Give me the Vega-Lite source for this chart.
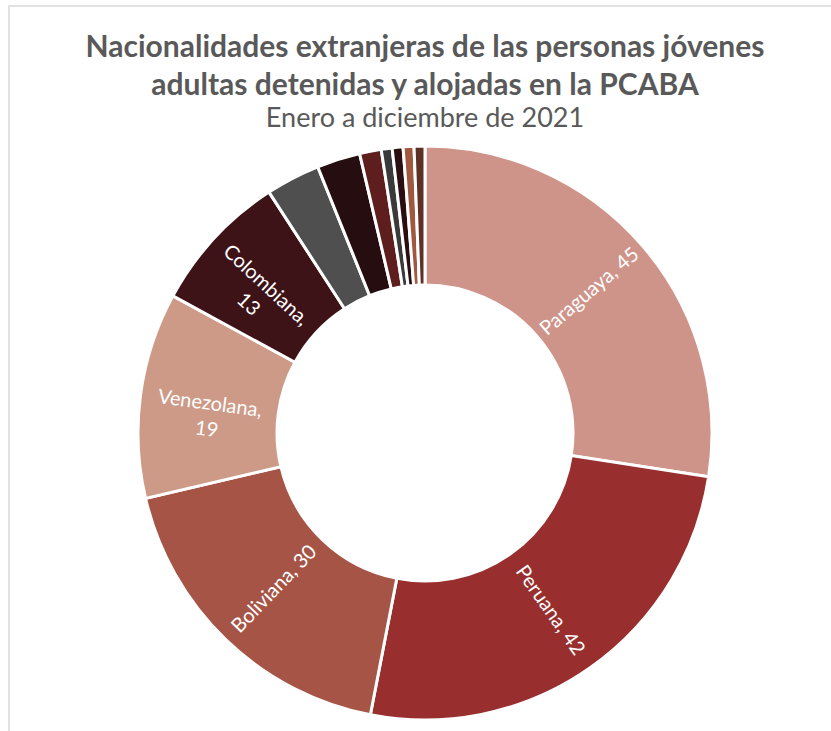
{
  "$schema": "https://vega.github.io/schema/vega-lite/v6.json",
  "width": 832,
  "height": 854,
  "autosize": {"type": "none"},
  "padding": {"left": 9, "top": 6, "right": 0, "bottom": 0},
  "background": "white",
  "view": {"stroke": "#d9d9d9", "strokeWidth": 1.5, "fill": null},
  "config": {
    "font": "Lato"
  },
  "title": {
    "text": ["Nacionalidades extranjeras de las personas jóvenes", "adultas detenidas y alojadas en la PCABA"],
    "subtitle": "Enero a diciembre de 2021",
    "anchor": "middle",
    "orient": "top",
    "offset": -126,
    "font": "Lato",
    "fontSize": 30,
    "fontWeight": "bold",
    "color": "#595959",
    "lineHeight": 38,
    "subtitleFont": "Lato",
    "subtitleFontSize": 27,
    "subtitleFontWeight": "normal",
    "subtitleColor": "#595959",
    "subtitlePadding": 5
  },
  "data": {
    "values": [
      {"orden": 1, "nacionalidad": "Paraguaya", "n": 45},
      {"orden": 2, "nacionalidad": "Peruana", "n": 42},
      {"orden": 3, "nacionalidad": "Boliviana", "n": 30},
      {"orden": 4, "nacionalidad": "Venezolana", "n": 19},
      {"orden": 5, "nacionalidad": "Colombiana", "n": 13},
      {"orden": 6, "nacionalidad": "Uruguaya", "n": 5},
      {"orden": 7, "nacionalidad": "Dominicana", "n": 4},
      {"orden": 8, "nacionalidad": "Chilena", "n": 2},
      {"orden": 9, "nacionalidad": "Brasileña", "n": 1},
      {"orden": 10, "nacionalidad": "Ecuatoriana", "n": 1},
      {"orden": 11, "nacionalidad": "Senegalesa", "n": 1},
      {"orden": 12, "nacionalidad": "China", "n": 1}
    ]
  },
  "transform": [
    {"joinaggregate": [{"op": "sum", "field": "n", "as": "total"}]},
    {"window": [{"op": "sum", "field": "n", "as": "acum"}], "sort": [{"field": "orden", "order": "ascending"}], "frame": [null, 0]},
    {"calculate": "(datum.acum - datum.n / 2) / datum.total * 360", "as": "medio"},
    {"calculate": "datum.medio < 180 ? datum.medio - 90 : datum.medio - 270", "as": "giro"},
    {"calculate": "datum.n >= 20 ? datum.nacionalidad + ', ' + datum.n : (datum.n >= 13 ? [datum.nacionalidad + ',', '' + datum.n] : '')", "as": "etiqueta"}
  ],
  "encoding": {
    "theta": {"field": "n", "type": "quantitative", "stack": true},
    "order": {"field": "orden", "type": "quantitative", "sort": "ascending"}
  },
  "layer": [
    {
      "mark": {"type": "arc", "outerRadius": 287, "innerRadius": 148, "stroke": "white", "strokeWidth": 3},
      "encoding": {
        "color": {
          "field": "nacionalidad",
          "type": "nominal",
          "sort": null,
          "legend": null,
          "scale": {
            "domain": ["Paraguaya", "Peruana", "Boliviana", "Venezolana", "Colombiana", "Uruguaya", "Dominicana", "Chilena", "Brasileña", "Ecuatoriana", "Senegalesa", "China"],
            "range": ["#CF9489", "#982F2E", "#A65446", "#CD9A88", "#3D1318", "#4F4F4F", "#260D0F", "#5E1E1E", "#3A3A3A", "#2B0E12", "#A0593F", "#5E3126"]
          }
        }
      }
    },
    {
      "mark": {"type": "text", "radius": 217, "color": "white", "fontSize": 20, "font": "Lato", "align": "center", "baseline": "middle", "lineHeight": 26},
      "encoding": {
        "text": {"field": "etiqueta"},
        "angle": {"field": "giro", "type": "quantitative", "scale": null}
      }
    }
  ]
}
